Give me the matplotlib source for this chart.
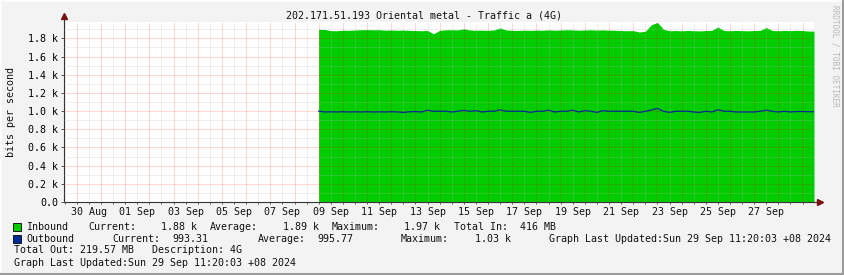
import datetime as dt
import numpy as np
import pandas as pd
import matplotlib
matplotlib.use("Agg")
import matplotlib.pyplot as plt
import matplotlib.dates as mdates
from matplotlib.patches import Rectangle
from matplotlib.lines import Line2D

# traffic in k bits/s, one sample every 6 hours from 09 Sep 00:00
inbound = [1.900, 1.898, 1.885, 1.884, 1.890, 1.888, 1.892, 1.895, 1.896, 1.894,
           1.895, 1.890, 1.892, 1.889, 1.891, 1.888, 1.886, 1.884, 1.886, 1.850,
           1.888, 1.894, 1.895, 1.893, 1.905, 1.892, 1.889, 1.890, 1.888, 1.893,
           1.915, 1.892, 1.889, 1.887, 1.890, 1.888, 1.891, 1.889, 1.893, 1.890,
           1.892, 1.895, 1.893, 1.890, 1.892, 1.894, 1.891, 1.893, 1.890, 1.889,
           1.886, 1.884, 1.885, 1.870, 1.878, 1.950, 1.975, 1.900, 1.884, 1.886,
           1.883, 1.887, 1.884, 1.882, 1.886, 1.888, 1.925, 1.886, 1.884, 1.887,
           1.885, 1.883, 1.886, 1.888, 1.920, 1.886, 1.884, 1.887, 1.885, 1.888,
           1.886, 1.880]
outbound = [1.000, 0.990, 0.992, 0.990, 0.993, 0.990, 0.992, 0.990, 0.993, 0.990,
            0.992, 0.990, 0.993, 0.991, 0.985, 0.992, 0.995, 0.990, 1.010, 0.998,
            0.998, 0.998, 0.990, 0.998, 1.008, 0.998, 1.005, 0.990, 0.998, 0.998,
            1.015, 0.998, 0.998, 0.998, 0.998, 0.985, 0.998, 0.998, 1.010, 0.990,
            0.998, 0.998, 1.010, 0.990, 1.005, 0.998, 0.985, 1.005, 0.998, 0.998,
            0.998, 0.998, 0.998, 0.985, 0.998, 1.012, 1.030, 0.998, 0.985, 0.998,
            0.998, 0.998, 0.990, 0.985, 0.998, 0.990, 1.015, 0.998, 0.998, 0.990,
            0.990, 0.990, 0.990, 0.998, 1.010, 0.998, 0.990, 0.998, 0.990, 0.995,
            0.995, 0.993]
data_start = "2024-09-09 00:00"
view_start = dt.datetime(2024, 8, 29, 11, 20)
view_end = dt.datetime(2024, 9, 29, 11, 20)

xlabels = ["30 Aug", "01 Sep", "03 Sep", "05 Sep", "07 Sep", "09 Sep", "11 Sep",
           "13 Sep", "15 Sep", "17 Sep", "19 Sep", "21 Sep", "23 Sep", "25 Sep", "27 Sep"]
xlabel_days = pd.date_range("2024-08-30 12:00", periods=len(xlabels), freq="2D")
yticks = [0.0, 0.2, 0.4, 0.6, 0.8, 1.0, 1.2, 1.4, 1.6, 1.8]
ylabels = ["0.0"] + [f"{v:.1f} k" for v in yticks[1:]]

title = "202.171.51.193 Oriental metal - Traffic a (4G)"
GREEN = "#00CC00"
BLUE = "#002A97"
BG = "#F3F3F3"
MONO = "DejaVu Sans Mono"
FS = 7.2

plt.rcParams["font.family"] = MONO
W, H = 845, 275
fig = plt.figure(figsize=(W / 100, H / 100), dpi=100, facecolor=BG)


def fx(x):
    return x / W


def fy(y):
    return 1 - y / H


# canvas frame (light top/left, dark bottom/right)
fig.add_artist(Line2D([0, 1], [fy(0.5), fy(0.5)], color="#FFFFFF", lw=1.2))
fig.add_artist(Line2D([fx(0.5), fx(0.5)], [0, 1], color="#FFFFFF", lw=1.2))
fig.add_artist(Line2D([0, 1], [fy(273.5), fy(273.5)], color="#9C9C9C", lw=2.2))
fig.add_artist(Line2D([fx(843.5), fx(843.5)], [0, 1], color="#9C9C9C", lw=2.2))

ax = fig.add_axes([fx(64), fy(202), 750 / W, 180 / H])
ax.set_facecolor("white")

times = list(pd.date_range(data_start, periods=len(inbound), freq="6h")) + [view_end]
inb = inbound + [inbound[-1]]
outb = outbound + [outbound[-1]]
ax.fill_between(times, 0, inb, color=GREEN, lw=0, zorder=1)
ax.plot(times, outb, color=BLUE, lw=0.9, zorder=3)

ax.set_xlim(view_start, view_end)
ax.set_ylim(0, 1.98)

ax.xaxis.set_major_locator(mdates.DayLocator())
ax.xaxis.set_minor_locator(mdates.HourLocator(byhour=[12]))
ax.xaxis.set_major_formatter(plt.NullFormatter())
ax.set_yticks(yticks, ylabels)
ax.set_yticks(np.arange(0.1, 1.98, 0.2), minor=True)

ax.set_axisbelow(False)
ax.grid(which="minor", color="#BABABA", alpha=0.45, lw=0.72, ls=(0, (1, 1)))
ax.grid(which="major", color="#FF0000", alpha=0.33, lw=0.72, ls=(0, (1, 1)))
ax.tick_params(axis="both", which="both", direction="out", color="#555555", width=0.7)
ax.tick_params(axis="y", which="major", length=2.3, pad=2.0, labelsize=FS)
ax.tick_params(axis="y", which="minor", length=0)
ax.tick_params(axis="x", which="both", length=1.6)

for s in ["top", "right"]:
    ax.spines[s].set_visible(False)
for s in ["left", "bottom"]:
    ax.spines[s].set_color("#333333")
    ax.spines[s].set_linewidth(0.8)

# axis arrows
ax.add_line(Line2D([0, 0], [1, 1.035], transform=ax.transAxes, color="#333333",
                   lw=0.8, clip_on=False))
ax.plot([0], [1.035], marker="^", ms=4.5, color="#7A1010", transform=ax.transAxes,
        clip_on=False)
ax.add_line(Line2D([1, 1.008], [0, 0], transform=ax.transAxes, color="#333333",
                   lw=0.8, clip_on=False))
ax.plot([1.008], [0], marker=">", ms=4.5, color="#7A1010", transform=ax.transAxes,
        clip_on=False)

for d, lab in zip(xlabel_days, xlabels):
    ax.text(d, -0.054, lab, transform=ax.get_xaxis_transform(), ha="center",
            va="center", fontsize=FS, color="#111111")

fig.text(fx(424.5), fy(15.5), title, ha="center", va="center", fontsize=FS,
         color="#111111")
fig.text(fx(11), fy(112), "bits per second", rotation=90, ha="center",
         va="center", fontsize=FS, color="#111111")
fig.text(fx(835.5), fy(5), "RRDTOOL / TOBI OETIKER", rotation=270, ha="center",
         va="top", fontsize=5.6, color="#B8B8B8")

# legend
fig.add_artist(Rectangle((fx(13), fy(231)), 8 / W, 8 / H, facecolor=GREEN,
                         edgecolor="#000000", lw=0.6))
fig.add_artist(Rectangle((fx(13), fy(243)), 8 / W, 8 / H, facecolor=BLUE,
                         edgecolor="#000000", lw=0.6))

row1 = [(26.3, "Inbound"), (88.3, "Current:"), (160.7, "1.88 k"),
        (210, "Average:"), (282.7, "1.89 k"), (332, "Maximum:"),
        (404.5, "1.97 k"), (454.3, "Total In:  416 MB")]
row2 = [(26.3, "Outbound"), (112.7, "Current:"), (172.3, "993.31"),
        (258.3, "Average:"), (317, "995.77"), (401, "Maximum:"),
        (475, "1.03 k"), (549.3, "Graph Last Updated:Sun 29 Sep 11:20:03 +08 2024")]
for yy, row in [(227, row1), (238.5, row2)]:
    for xx, txt in row:
        fig.text(fx(xx), fy(yy), txt, ha="left", va="center", fontsize=FS,
                 color="#111111")
fig.text(fx(14), fy(250), "Total Out: 219.57 MB   Description: 4G", ha="left",
         va="center", fontsize=FS, color="#111111")
fig.text(fx(14), fy(262.5), "Graph Last Updated:Sun 29 Sep 11:20:03 +08 2024",
         ha="left", va="center", fontsize=FS, color="#111111")

fig.savefig("out.png", dpi=100, facecolor=BG)
